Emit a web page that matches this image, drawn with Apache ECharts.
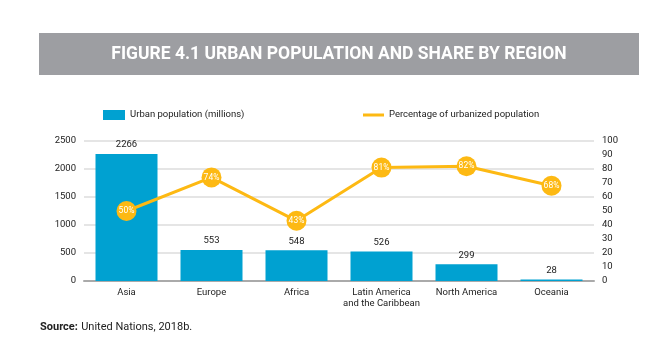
<!DOCTYPE html>
<html>
<head>
<meta charset="utf-8">
<script src="https://cdn.jsdelivr.net/npm/echarts@6/dist/echarts.min.js"></script>
<style>
html,body{margin:0;padding:0;background:#fff;}
#chart{width:656px;height:355px;}
</style>
</head>
<body>
<div id="chart"></div>
<script>
var categories = ['Asia', 'Europe', 'Africa', 'Latin America\nand the Caribbean', 'North America', 'Oceania'];
var urbanPopulation = [2266, 553, 548, 526, 299, 28];
var urbanShare = [50, 74, 43, 81, 82, 68];
var FONT = "Roboto, sans-serif";

var chart = echarts.init(document.getElementById('chart'));
chart.setOption({
  animation: false,
  backgroundColor: '#fff',
  textStyle: { fontFamily: FONT },
  graphic: [
    { type: 'rect', shape: { x: 39, y: 33, width: 600, height: 42 }, style: { fill: '#9d9ea2' }, silent: true },
    { type: 'text', x: 339, y: 55, style: { text: 'FIGURE 4.1 URBAN POPULATION AND SHARE BY REGION', fill: '#fff', font: "bold 17.5px Roboto, sans-serif", align: 'center', verticalAlign: 'middle' } },
    { type: 'text', x: 40, y: 327, style: { rich: { b: { fontWeight: 'bold', fontSize: 11, fontFamily: FONT, fill: '#222' }, r: { fontSize: 11, fontFamily: FONT, fill: '#222' } }, text: '{b|Source:} {r|United Nations, 2018b.}', verticalAlign: 'middle' } }
  ],
  legend: [
    { left: 98, top: 105, itemWidth: 22, itemHeight: 10, data: [{ name: 'Urban population (millions)', icon: 'rect' }], textStyle: { fontSize: 9.5, color: '#222', fontFamily: FONT } },
    { left: 358, top: 105, itemWidth: 21, itemHeight: 3, data: [{ name: 'Percentage of urbanized population', icon: 'rect' }], textStyle: { fontSize: 9.5, color: '#222', fontFamily: FONT } }
  ],
  grid: { left: 84, right: 62, top: 141, bottom: 74 },
  xAxis: {
    type: 'category',
    data: categories,
    axisLine: { lineStyle: { color: '#aaa', width: 2 } },
    axisTick: { show: false },
    axisLabel: { color: '#222', fontSize: 9.5, fontFamily: FONT, margin: 6, lineHeight: 11, interval: 0 }
  },
  yAxis: [
    {
      type: 'value', min: 0, max: 2500, interval: 500,
      axisLine: { show: false }, axisTick: { show: false },
      axisLabel: { color: '#222', fontSize: 9.5, fontFamily: FONT, margin: 8, formatter: function (v) { return String(v); } },
      splitLine: { lineStyle: { color: '#dcdcdc', width: 1.5 } }
    },
    {
      type: 'value', min: 0, max: 100, interval: 10, position: 'right',
      axisLine: { show: false }, axisTick: { show: false },
      axisLabel: { color: '#222', fontSize: 9.5, fontFamily: FONT, margin: 8 },
      splitLine: { show: false }
    }
  ],
  series: [
    {
      name: 'Urban population (millions)', type: 'bar', data: urbanPopulation, barWidth: 62,
      itemStyle: { color: '#00a1d1' },
      label: { show: true, position: 'top', distance: 4, color: '#222', fontSize: 9.5, fontFamily: FONT }
    },
    {
      name: 'Percentage of urbanized population', type: 'line', yAxisIndex: 1, data: urbanShare,
      itemStyle: { color: '#fdb913' },
      lineStyle: { color: '#fdb913', width: 3 },
      symbol: 'circle', symbolSize: 20,
      label: { show: true, position: 'inside', color: '#fff', fontSize: 8.5, fontFamily: FONT, formatter: '{c}%' },
      z: 5
    }
  ]
});
</script>
</body>
</html>
